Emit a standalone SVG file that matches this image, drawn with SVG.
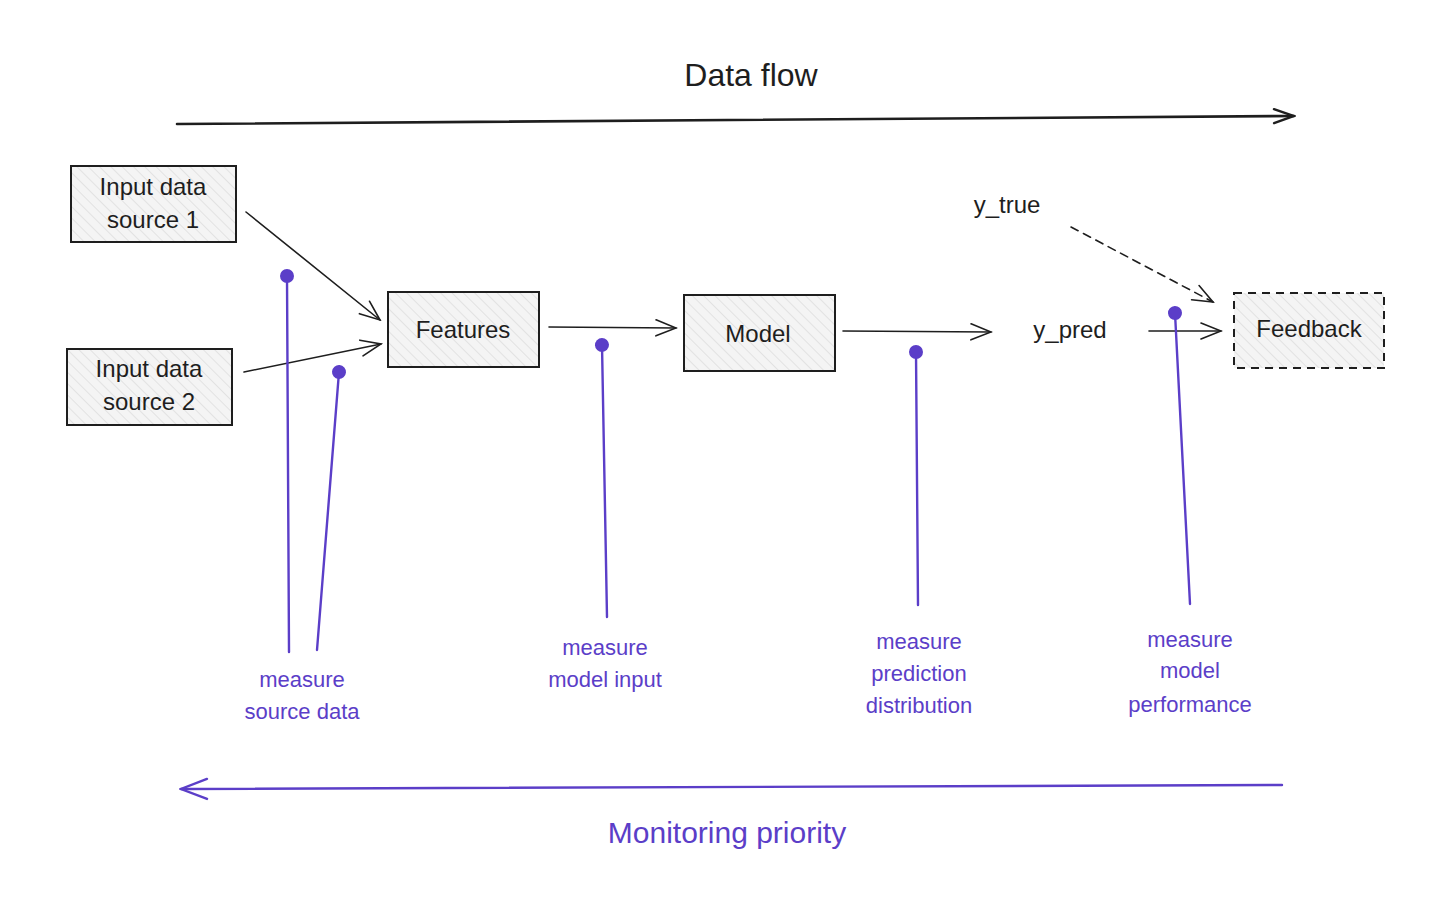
<svg xmlns="http://www.w3.org/2000/svg" width="1447" height="907" viewBox="0 0 1447 907">
<defs>
<pattern id="hatch" width="8" height="8" patternUnits="userSpaceOnUse" patternTransform="rotate(-45)">
<rect width="8" height="8" fill="#f4f4f4"/>
<line x1="0" y1="0" x2="0" y2="8" stroke="#d6d6d6" stroke-width="1.2"/>
</pattern>
<marker id="openB" markerWidth="24" markerHeight="20" refX="22" refY="10" orient="auto" markerUnits="userSpaceOnUse">
<path d="M2,2 L22,10 L2,18" fill="none" stroke="#1e1e1e" stroke-width="1.6" stroke-linecap="round"/>
</marker>
<marker id="openB2" markerWidth="24" markerHeight="20" refX="22" refY="10" orient="auto" markerUnits="userSpaceOnUse">
<path d="M2,3 L22,10 L2,17" fill="none" stroke="#1e1e1e" stroke-width="2.4" stroke-linecap="round"/>
</marker>
<marker id="openP" markerWidth="30" markerHeight="24" refX="28" refY="12" orient="auto" markerUnits="userSpaceOnUse">
<path d="M2,2 L28,12 L2,22" fill="none" stroke="#5b3ec8" stroke-width="2.4" stroke-linecap="round"/>
</marker>
<marker id="dotP" markerWidth="16" markerHeight="16" refX="8" refY="8" orient="auto" markerUnits="userSpaceOnUse">
<circle cx="8" cy="8" r="7" fill="#5b3ec8"/>
</marker>
</defs>
<style>
.box{fill:url(#hatch);stroke:#1e1e1e;stroke-width:2}
.dash{stroke-dasharray:8 6}
.t{font-family:"Liberation Sans",Arial,sans-serif;fill:#1e1e1e;text-anchor:middle}
.p{font-family:"Liberation Sans",Arial,sans-serif;fill:#5b3ec8;text-anchor:middle;font-size:22px}
.c{fill:none;stroke:#1e1e1e;stroke-width:1.6;stroke-linecap:round}
.thick{stroke-width:2.6}
.m{fill:none;stroke:#5b3ec8;stroke-width:2.4;stroke-linecap:round}
</style>
<rect width="1447" height="907" fill="#ffffff"/>

<text class="t" x="751" y="86" font-size="32">Data flow</text>
<text class="p" x="727" y="843" style="font-size:30px">Monitoring priority</text>

<g id="src1">
<rect class="box" x="71" y="166" width="165" height="76"/>
<text class="t" x="153" y="195" font-size="24">Input data</text>
<text class="t" x="153" y="228" font-size="24">source 1</text>
</g>
<g id="src2">
<rect class="box" x="67" y="349" width="165" height="76"/>
<text class="t" x="149" y="377" font-size="24">Input data</text>
<text class="t" x="149" y="410" font-size="24">source 2</text>
</g>
<g id="features">
<rect class="box" x="388" y="292" width="151" height="75"/>
<text class="t" x="463" y="338" font-size="24">Features</text>
</g>
<g id="model">
<rect class="box" x="684" y="295" width="151" height="76"/>
<text class="t" x="758" y="342" font-size="24">Model</text>
</g>
<g id="ypred">
<text class="t" x="1070" y="338" font-size="24">y_pred</text>
</g>
<g id="ytrue">
<text class="t" x="1007" y="213" font-size="24">y_true</text>
</g>
<g id="feedback">
<rect class="box dash" x="1234" y="293" width="150" height="75"/>
<text class="t" x="1309" y="337" font-size="24">Feedback</text>
</g>
<g id="lbl-source">
<text class="p" x="302" y="687">measure</text>
<text class="p" x="302" y="719">source data</text>
</g>
<g id="lbl-input">
<text class="p" x="605" y="655">measure</text>
<text class="p" x="605" y="687">model input</text>
</g>
<g id="lbl-pred">
<text class="p" x="919" y="649">measure</text>
<text class="p" x="919" y="681">prediction</text>
<text class="p" x="919" y="713">distribution</text>
</g>
<g id="lbl-perf">
<text class="p" x="1190" y="647">measure</text>
<text class="p" x="1190" y="678">model</text>
<text class="p" x="1190" y="712">performance</text>
</g>

<g id="connectors">
<line class="c thick" x1="177" y1="124" x2="1294" y2="116" marker-end="url(#openB2)"/>
<line class="m" x1="1282" y1="785" x2="181" y2="789" marker-end="url(#openP)"/>
<line class="c" x1="246" y1="212" x2="380" y2="320" marker-end="url(#openB)"/>
<line class="c" x1="244" y1="372" x2="381" y2="344" marker-end="url(#openB)"/>
<line class="c" x1="549" y1="327" x2="676" y2="328" marker-end="url(#openB)"/>
<line class="c" x1="843" y1="331" x2="991" y2="332" marker-end="url(#openB)"/>
<line class="c" x1="1149" y1="331" x2="1221" y2="331" marker-end="url(#openB)"/>
<line class="c dash" x1="1071" y1="227" x2="1213" y2="302" marker-end="url(#openB)"/>
<line class="m" x1="289" y1="652" x2="287" y2="276" marker-end="url(#dotP)"/>
<line class="m" x1="317" y1="650" x2="339" y2="372" marker-end="url(#dotP)"/>
<line class="m" x1="607" y1="617" x2="602" y2="345" marker-end="url(#dotP)"/>
<line class="m" x1="918" y1="605" x2="916" y2="352" marker-end="url(#dotP)"/>
<line class="m" x1="1190" y1="604" x2="1175" y2="313" marker-end="url(#dotP)"/>
</g>
</svg>
